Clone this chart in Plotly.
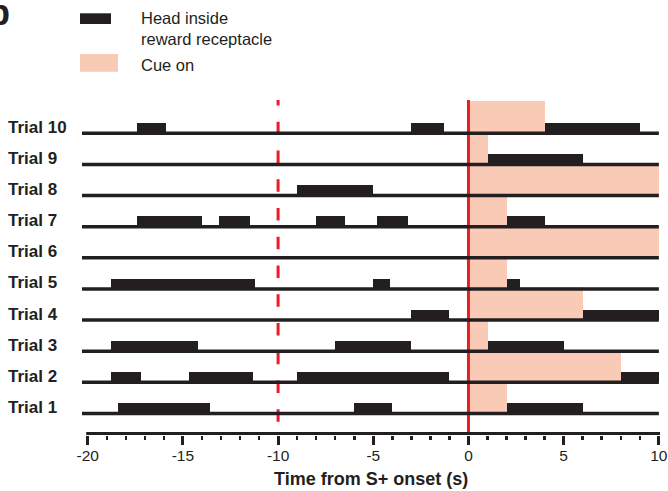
import plotly.graph_objects as go

# ---------------- data ----------------
trials = [1, 2, 3, 4, 5, 6, 7, 8, 9, 10]
trial_labels = ["Trial 1", "Trial 2", "Trial 3", "Trial 4", "Trial 5",
                "Trial 6", "Trial 7", "Trial 8", "Trial 9", "Trial 10"]
cue_end = [2, 8, 1, 6, 2, 10, 2, 10, 1, 4]   # cue on from 0 to cue_end (s)

head_start = [
    [-18.4, -6.0, 2.0],                 # Trial 1
    [-18.8, -14.7, -9.0, 8.0],          # Trial 2
    [-18.8, -7.0, 1.0],                 # Trial 3
    [-3.0, 6.0],                        # Trial 4
    [-18.8, -5.0, 2.0],                 # Trial 5
    [],                                 # Trial 6
    [-17.4, -13.1, -8.0, -4.8, 2.0],    # Trial 7
    [-9.0],                             # Trial 8
    [1.0],                              # Trial 9
    [-17.4, -3.0, 4.0],                 # Trial 10
]
head_end = [
    [-13.6, -4.0, 6.0],
    [-17.2, -11.3, -1.0, 10.0],
    [-14.2, -3.0, 5.0],
    [-1.0, 10.0],
    [-11.2, -4.1, 2.7],
    [],
    [-14.0, -11.5, -6.5, -3.2, 4.0],
    [-5.0],
    [6.0],
    [-15.9, -1.3, 9.0],
]
tick_vals = [-20, -15, -10, -5, 0, 5, 10]
tick_text = ["-20", "-15", "-10", "-5", "0", "5", "10"]
x_title = "Time from S+ onset (s)"
legend_head = ["Head inside", "reward receptacle"]
legend_cue = "Cue on"
panel_label = "b"

# ---------------- style ----------------
BLACK = "#231F20"
PINK = "#F9CAB6"
RED = "#ED1C24"
FONT = "Liberation Sans, Arial, sans-serif"

PAD = 3          # annotation padding
W, H = 668, 491
ML, MR, MT, MB = 82, 8, 100, 56
PW, PH = W - ML - MR, H - MT - MB
XR = [-20.3, 10.06]
YR = [0.3094, 11.071]
HEAD_H = 0.33
CUE_H = 1.05
AXIS_Y = 0.3576


def px(xs):
    return (xs - ML) / PW


def py(ys):
    return (H - MB - ys) / PH


fig = go.Figure()

# cue-on rectangles
fig.add_trace(go.Bar(
    orientation="h",
    y=[t + CUE_H / 2 for t in trials],
    x=cue_end,
    base=[0] * len(trials),
    width=[CUE_H] * len(trials),
    marker=dict(color=PINK, line=dict(width=0)),
    showlegend=False, hoverinfo="skip",
))

# head-inside rectangles
hy, hx, hb = [], [], []
for t, ss, ee in zip(trials, head_start, head_end):
    for s, e in zip(ss, ee):
        hy.append(t + HEAD_H / 2)
        hx.append(e - s)
        hb.append(s)
fig.add_trace(go.Bar(
    orientation="h", y=hy, x=hx, base=hb,
    width=[HEAD_H] * len(hy),
    marker=dict(color=BLACK, line=dict(width=0)),
    showlegend=False, hoverinfo="skip",
))

# red reference lines
fig.add_trace(go.Scatter(
    x=[0, 0], y=[YR[1] + 0.1, AXIS_Y], mode="lines",
    line=dict(color=RED, width=3), showlegend=False, hoverinfo="skip"))
fig.add_trace(go.Scatter(
    x=[-10, -10], y=[YR[1] + 0.2265, AXIS_Y], mode="lines",
    line=dict(color=RED, width=3, dash="12.5px,16.25px"),
    showlegend=False, hoverinfo="skip"))

# trial baselines
bx, by = [], []
for t in trials:
    bx += [XR[0], 10, None]
    by += [t, t, None]
fig.add_trace(go.Scatter(
    x=bx, y=by, mode="lines", line=dict(color=BLACK, width=3.5),
    showlegend=False, hoverinfo="skip"))

# axis line
fig.add_trace(go.Scatter(
    x=[-20.08, 10.06], y=[AXIS_Y, AXIS_Y], mode="lines",
    line=dict(color=BLACK, width=3), showlegend=False, hoverinfo="skip"))

annotations = []
for t, lab in zip(trials, trial_labels):
    annotations.append(dict(
        x=px(9 - PAD), xref="paper", xanchor="left",
        y=t + 0.196, yref="y", yanchor="middle",
        text=lab, showarrow=False,
        font=dict(family=FONT, size=17, color=BLACK, weight="bold")))

annotations.append(dict(
    x=px(371.2), xref="paper", xanchor="center",
    y=py(478.8), yref="paper", yanchor="middle",
    text=x_title, showarrow=False,
    font=dict(family=FONT, size=18, color=BLACK, weight="bold")))

# legend
annotations.append(dict(
    x=px(141.5 - PAD), xref="paper", xanchor="left", y=py(18.3), yref="paper",
    yanchor="middle", text=legend_head[0], showarrow=False,
    font=dict(family=FONT, size=16.5, color=BLACK)))
annotations.append(dict(
    x=px(141.5 - PAD), xref="paper", xanchor="left", y=py(39.3), yref="paper",
    yanchor="middle", text=legend_head[1], showarrow=False,
    font=dict(family=FONT, size=16.5, color=BLACK)))
annotations.append(dict(
    x=px(141.5 - PAD), xref="paper", xanchor="left", y=py(64.8), yref="paper",
    yanchor="middle", text=legend_cue, showarrow=False,
    font=dict(family=FONT, size=16.5, color=BLACK)))

annotations.append(dict(
    x=px(-10.7 - PAD), xref="paper", xanchor="left", y=py(12.5), yref="paper",
    yanchor="middle", text=panel_label, showarrow=False,
    font=dict(family=FONT, size=36, color=BLACK, weight="bold")))

shapes = [
    dict(type="rect", xref="paper", yref="paper",
         x0=px(80), x1=px(111), y0=py(24), y1=py(13.3),
         fillcolor=BLACK, line=dict(width=0)),
    dict(type="rect", xref="paper", yref="paper",
         x0=px(80), x1=px(118), y0=py(71.7), y1=py(54),
         fillcolor=PINK, line=dict(width=0)),
]

fig.update_layout(
    width=W, height=H,
    margin=dict(l=ML, r=MR, t=MT, b=MB, pad=0),
    paper_bgcolor="white", plot_bgcolor="white",
    barmode="overlay", bargap=0,
    showlegend=False,
    annotations=annotations, shapes=shapes,
    xaxis=dict(
        range=XR, showgrid=False, zeroline=False, showline=False,
        automargin=False,
        tickmode="array", tickvals=tick_vals, ticktext=tick_text,
        ticks="outside", ticklen=9, tickwidth=3, tickcolor=BLACK,
        ticklabelstandoff=-3,
        tickfont=dict(family=FONT, size=15.5, color=BLACK),
        minor=dict(dtick=1, tick0=0, ticks="outside", ticklen=4,
                   tickwidth=2.5, tickcolor=BLACK, showgrid=False),
        fixedrange=True,
    ),
    yaxis=dict(range=YR, visible=False, fixedrange=True, automargin=False),
)

fig.write_html(
    "out.html",
    config={"displayModeBar": False, "staticPlot": True},
    post_script="document.body.style.margin='0px';document.body.style.overflow='hidden';",
)
